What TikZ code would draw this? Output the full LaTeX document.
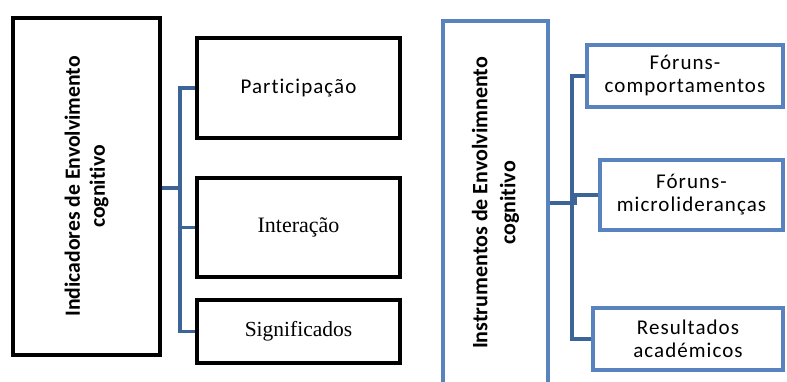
\documentclass[tikz,border=0pt]{standalone}
\usepackage{fontspec}
\setmainfont{Carlito}[Ligatures=NoCommon]
\newfontfamily\serifrm{Liberation Serif}
\newfontfamily\spaced[LetterSpace=5,Ligatures=NoCommon]{Carlito}
\usetikzlibrary{positioning}
\definecolor{connblue}{HTML}{3C6497}
\definecolor{boxblue}{HTML}{5883BE}

\begin{document}
\begin{tikzpicture}[x=1pt,y=-1pt,
  blackbox/.style={draw=black, line width=3.5pt, inner sep=0pt, align=center},
  bluebox/.style={draw=boxblue, line width=3.5pt, inner sep=0pt, align=center},
  conn/.style={draw=connblue, line width=3.5pt},
  vtext/.style={rotate=90, font=\fontsize{21.7}{25}\selectfont\bfseries}]
\clip (0,0) rectangle (787,381);
\fill[white] (0,0) rectangle (787,381);

% indicadores
\node[blackbox, minimum width=147pt, minimum height=337pt] (ind) at (86.5,186.5) {};
\node[vtext, align=center] (indtxt) at (ind.center) {Indicadores de Envolvimento\\cognitivo};
\node[blackbox, minimum width=203pt, minimum height=100pt,
      font=\spaced\fontsize{21}{24}\selectfont] (part) at (298.5,88) {Participação};
\node[blackbox, minimum width=203pt, minimum height=99pt,
      font=\serifrm\fontsize{22}{25}\selectfont] (inter) at (298.5,227.5) {Interação};
\node[blackbox, minimum width=203pt, minimum height=63pt,
      font=\serifrm\fontsize{21.5}{25}\selectfont] (sig) at (298.5,331.5) {Significados};

\coordinate (lspine) at (180,188);
\draw[conn] (ind.east |- lspine) -- (lspine);
\draw[conn] (part.west) -| (lspine) |- (sig.west);
\draw[conn] (inter.west) -- (inter.west -| lspine);

% instrumentos
\node[bluebox, minimum width=105pt, minimum height=364pt] (instr) at (495.5,203) {};
\node[vtext, align=center, font=\fontsize{22}{28}\selectfont\bfseries] (instrtxt) at (instr.center) {Instrumentos de Envolvimnento\\cognitivo};
\node[bluebox, minimum width=196pt, minimum height=62pt,
      font=\spaced\fontsize{21}{23}\selectfont] (comp) at (685,76) {Fóruns-\\comportamentos};
\node[bluebox, minimum width=183pt, minimum height=70pt,
      font=\spaced\fontsize{21}{23}\selectfont] (micro) at (691.5,195) {Fóruns-\\microlideranças};
\node[bluebox, minimum width=190pt, minimum height=62pt,
      font=\spaced\fontsize{21}{23}\selectfont] (res) at (688,339) {Resultados\\académicos};

\coordinate (rspine) at (572,203);
\draw[conn] (instr.east) -- (rspine);
\draw[conn] (comp.west) -| (rspine) |- (res.west);
\draw[conn] (micro.west) -- ++(-23,0) |- (rspine);
\end{tikzpicture}
\end{document}
